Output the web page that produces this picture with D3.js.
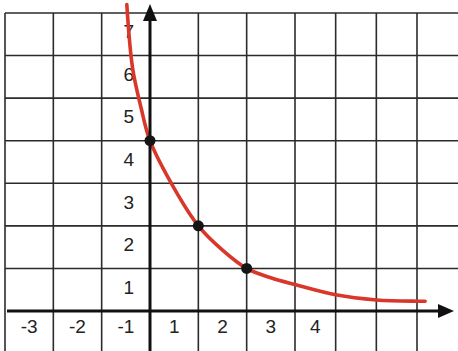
<!DOCTYPE html>
<html>
<head>
<meta charset="utf-8">
<script src="https://cdn.jsdelivr.net/npm/d3@7"></script>
<style>
  html, body { margin: 0; padding: 0; background: #fff; }
  svg { display: block; }
  text { font-family: "Liberation Sans", Arial, sans-serif; }
</style>
</head>
<body>
<svg id="chart" width="458" height="351"></svg>
<script>
// Tick labels along each axis
const xTickLabels = [-3, -2, -1, 1, 2, 3, 4];
const yTickLabels = [1, 2, 3, 4, 5, 6, 7];

// Grid lines (unit squares)
const xGrid = [-3, -2, -1, 0, 1, 2, 3, 4, 5, 6];
const yGrid = [1, 2, 3, 4, 5, 6, 7];

// Hand-drawn decay curve, sampled along its length
const curveX = [-0.48, -0.36, -0.18, 0, 0.5, 1, 1.5, 2, 2.5, 3, 4, 5, 6, 6.2];
const curveY = [7.2, 5.7, 4.75, 4, 2.88, 2, 1.43, 1, 0.78, 0.62, 0.38, 0.26, 0.23, 0.23];

// Marked points on the curve
const pointX = [0, 1, 2];
const pointY = [4, 2, 1];

const W = 458, H = 351;
const svg = d3.select("#chart");

// The printed grid is slightly uneven toward the right, so the x scale is piecewise
const x = d3.scaleLinear().domain([-3, 3, 6]).range([5, 295, 417]);
const y = d3.scaleLinear().domain([0, 7]).range([311, 13]);

const gridColor = "#2b2b2b";

// vertical grid lines
svg.append("g").selectAll("line").data(xGrid).join("line")
  .attr("x1", d => x(d)).attr("x2", d => x(d))
  .attr("y1", y(7)).attr("y2", H)
  .attr("stroke", gridColor).attr("stroke-width", 1.6);

// horizontal grid lines
svg.append("g").selectAll("line").data(yGrid).join("line")
  .attr("x1", x(-3)).attr("x2", W)
  .attr("y1", d => y(d)).attr("y2", d => y(d))
  .attr("stroke", gridColor).attr("stroke-width", 1.6);

// x labels sit in the square between each line and the origin
svg.append("g").selectAll("text").data(xTickLabels).join("text")
  .attr("x", d => (x(d) + x(d > 0 ? d - 1 : d + 1)) / 2)
  .attr("y", 333)
  .attr("text-anchor", "middle")
  .attr("font-size", 19)
  .attr("fill", "#222")
  .text(d => d);

// y labels sit in the square below each line, left of the y-axis
svg.append("g").selectAll("text").data(yTickLabels).join("text")
  .attr("x", (x(-1) + x(0)) / 2 + 3)
  .attr("y", d => (y(d) + y(d - 1)) / 2 + 4)
  .attr("text-anchor", "middle")
  .attr("font-size", 19)
  .attr("fill", "#222")
  .text(d => d);

// the curve
const line = d3.line()
  .x(d => x(d[0])).y(d => y(d[1]))
  .curve(d3.curveCatmullRom.alpha(0.5));
svg.append("path")
  .datum(d3.zip(curveX, curveY))
  .attr("d", line)
  .attr("fill", "none")
  .attr("stroke", "#d8372a")
  .attr("stroke-width", 3.6)
  .attr("stroke-linecap", "round");

// axes with arrowheads
const axisColor = "#111";
svg.append("line")
  .attr("x1", 7).attr("x2", 442)
  .attr("y1", y(0)).attr("y2", y(0))
  .attr("stroke", axisColor).attr("stroke-width", 3);
svg.append("path")
  .attr("d", `M${454},${y(0)} L${438},${y(0) - 7} L${438},${y(0) + 7} Z`)
  .attr("fill", axisColor);

svg.append("line")
  .attr("x1", x(0)).attr("x2", x(0))
  .attr("y1", H).attr("y2", 18)
  .attr("stroke", axisColor).attr("stroke-width", 3);
svg.append("path")
  .attr("d", `M${x(0)},${4} L${x(0) - 7},${21} L${x(0) + 7},${21} Z`)
  .attr("fill", axisColor);

// marked points
svg.append("g").selectAll("circle").data(d3.zip(pointX, pointY)).join("circle")
  .attr("cx", d => x(d[0])).attr("cy", d => y(d[1]))
  .attr("r", 5.5)
  .attr("fill", "#151515");
</script>
</body>
</html>
